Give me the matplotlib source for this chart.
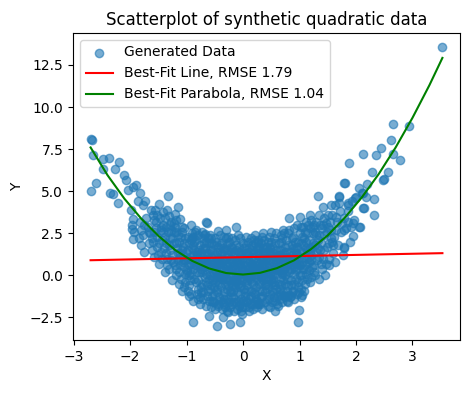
import numpy as np
import matplotlib
matplotlib.use("Agg")
import matplotlib.pyplot as plt

# points, grouped by region: (x, y)
left_arm = [
    (-2.69, 8.12), (-2.68, 8.02), (-2.66, 7.17), (-2.48, 6.93), (-2.38, 6.99),
    (-2.20, 6.73), (-2.26, 6.34), (-2.48, 6.34), (-2.60, 5.46), (-2.69, 5.02),
    (-2.10, 5.99), (-2.07, 5.65), (-1.95, 5.26), (-2.36, 4.87), (-2.31, 4.81),
    (-2.22, 4.31), (-2.04, 5.06), (-1.89, 5.36), (-1.83, 4.87), (-1.78, 4.18),
    (-1.33, 4.71), (-1.49, 4.24), (-1.95, 3.35), (-1.96, 2.74), (-1.75, 2.99),
    (-1.60, 3.58), (-1.54, 3.19), (-1.42, 3.78), (-1.28, 3.19), (-1.66, 2.60),
    (-1.81, 2.70), (-1.95, 2.15), (-1.80, 1.81), (-1.15, 4.08), (-1.21, 3.64),
    (-0.65, 3.19), (-1.11, 3.33), (-0.92, 2.99), (-0.64, 3.13), (-0.13, 2.89),
    (-0.45, 2.66), (-0.30, 2.70), (-0.68, 2.46), (-0.83, 2.70),
]

right_arm = [
    (3.53, 13.57), (2.65, 9.00), (2.93, 8.90), (2.62, 8.06), (2.44, 7.58),
    (2.13, 7.19), (2.36, 7.13), (2.65, 7.23), (2.78, 6.87), (1.88, 6.70),
    (2.29, 6.14), (2.56, 6.14), (2.50, 5.75), (2.47, 5.65), (1.79, 5.49),
    (2.06, 5.22), (2.20, 5.42), (2.13, 4.90), (2.18, 4.63), (2.32, 4.51),
    (1.99, 4.57), (1.85, 4.18), (2.12, 4.02), (2.32, 3.58), (2.07, 2.86),
    (1.94, 2.35), (1.79, 1.68), (1.76, 3.09), (1.32, 4.71), (1.69, 4.71),
    (1.81, 5.46), (1.41, 4.08), (1.56, 4.18), (1.70, 4.28), (1.18, 3.58),
    (1.35, 3.58), (0.81, 3.39), (1.00, 3.45), (0.50, 2.60), (0.36, 2.50),
    (0.67, 2.40), (0.26, 2.11), (2.15, 3.98), (1.70, 4.67), (2.00, 4.67),
    (2.11, 4.88), (1.85, 4.29), (1.62, 4.18), (1.94, 3.10), (2.06, 2.90),
    (1.79, 2.70), (1.79, 1.63), (1.65, 3.49), (1.65, 2.70), (1.85, 3.19),
    (1.91, 2.90),
]

bottom_points = [
    (-0.89, -2.75), (-0.47, -3.01), (-0.24, -2.87), (-0.06, -2.75), (-0.60, -2.42),
    (-0.36, -2.48), (-0.26, -2.16), (-0.01, -2.28), (0.97, -2.75), (0.99, -2.03),
    (1.05, -1.14), (0.56, -2.09), (-1.09, -0.90), (-0.80, -1.38), (0.29, -1.63),
    (0.44, -1.83), (0.70, -1.14), (0.82, -1.14),
]

core = [
    (-1.98, 3.9), (-1.93, 2.6), (-1.86, 4.4), (-1.82, 3.2), (-1.84, 2.2), (-1.97, 3.0),
    (-1.78, 2.4), (-1.72, 3.4), (-1.66, 1.9), (-1.63, 3.9), (-1.75, 1.4), (-1.69, 2.9),
    (-1.61, 2.2), (-1.74, 4.4),
    (-1.58, 1.1), (-1.55, 2.8), (-1.52, 1.7), (-1.47, 3.4), (-1.44, 2.1), (-1.56, 3.9),
    (-1.49, 0.7), (-1.42, 2.6), (-1.53, 2.3), (-1.46, 1.4), (-1.59, 2.0), (-1.41, 3.0),
    (-1.39, 0.2), (-1.36, 1.3), (-1.33, 2.6), (-1.31, 1.8), (-1.28, 0.9), (-1.25, 2.2),
    (-1.22, 3.1), (-1.37, 2.9), (-1.34, 1.0), (-1.29, 1.5), (-1.26, -0.3), (-1.23, 1.9),
    (-1.38, 2.3), (-1.21, 0.6), (-1.32, 3.5), (-1.27, 2.7),
    (-1.19, 0.4), (-1.17, 1.6), (-1.15, 2.4), (-1.13, -0.5), (-1.11, 1.1), (-1.09, 2.9),
    (-1.07, 0.8), (-1.05, 1.9), (-1.03, 0.1), (-1.01, 1.4), (-1.18, 3.3), (-1.16, 0.9),
    (-1.14, 2.0), (-1.12, 1.3), (-1.10, -0.2), (-1.08, 2.6), (-1.06, 1.7), (-1.04, 0.5),
    (-1.02, 2.2), (-1.00, 1.0),
    (-0.99, 0.3), (-0.97, 1.5), (-0.95, -0.6), (-0.93, 2.1), (-0.91, 0.9), (-0.89, 1.8),
    (-0.87, -0.2), (-0.85, 2.6), (-0.83, 0.6), (-0.81, 1.2), (-0.98, 2.3), (-0.96, 0.0),
    (-0.94, 1.1), (-0.92, -1.1), (-0.90, 1.6), (-0.88, 0.4), (-0.86, 2.0), (-0.84, -0.4),
    (-0.82, 1.4), (-0.80, 0.8), (-0.97, -0.9), (-0.93, 0.7), (-0.88, 2.3), (-0.84, 1.0),
    (-0.79, -0.3), (-0.77, 1.2), (-0.75, 0.4), (-0.73, 2.2), (-0.71, -1.0), (-0.69, 0.9),
    (-0.67, 1.6), (-0.65, 0.1), (-0.63, -0.6), (-0.61, 1.9), (-0.78, 0.7), (-0.76, -1.3),
    (-0.74, 1.4), (-0.72, 0.2), (-0.70, 2.4), (-0.68, -0.1), (-0.66, 1.0), (-0.64, 0.6),
    (-0.62, -0.9), (-0.60, 1.3), (-0.77, 1.8), (-0.73, -0.5), (-0.69, 0.5), (-0.65, 2.0),
    (-0.63, 0.8), (-0.61, -0.2),
    (-0.59, 0.0), (-0.57, 1.1), (-0.55, -1.2), (-0.53, 0.6), (-0.51, 1.8), (-0.49, -0.4),
    (-0.47, 0.9), (-0.45, -1.7), (-0.43, 0.3), (-0.41, 1.4), (-0.58, -0.8), (-0.56, 2.2),
    (-0.54, 0.2), (-0.52, -0.1), (-0.50, 1.2), (-0.48, 0.5), (-0.46, -1.0), (-0.44, 1.7),
    (-0.42, -0.5), (-0.40, 0.7), (-0.59, 1.5), (-0.55, -1.5), (-0.52, 0.8), (-0.48, 2.0),
    (-0.46, 0.1), (-0.44, -0.2), (-0.42, 1.0), (-0.57, -0.6),
    (-0.39, -0.7), (-0.37, 0.5), (-0.35, 1.6), (-0.33, -1.4), (-0.31, 0.2), (-0.29, 1.1),
    (-0.27, -0.3), (-0.25, 2.0), (-0.23, 0.7), (-0.21, -1.0), (-0.38, 1.3), (-0.36, -0.1),
    (-0.34, 0.9), (-0.32, -1.9), (-0.30, 0.4), (-0.28, 1.8), (-0.26, -0.6), (-0.24, 0.0),
    (-0.22, 1.4), (-0.20, -0.4), (-0.39, 0.8), (-0.35, -1.2), (-0.31, 2.2), (-0.28, 0.6),
    (-0.25, -1.6), (-0.22, 0.3), (-0.37, -0.2), (-0.33, 1.5), (-0.29, -0.8), (-0.24, 1.0),
    (-0.19, 0.4), (-0.17, -0.9), (-0.15, 1.2), (-0.13, -0.2), (-0.11, 0.8), (-0.09, -1.5),
    (-0.07, 1.7), (-0.05, 0.1), (-0.03, -0.6), (-0.01, 1.0), (-0.18, -1.3), (-0.16, 0.6),
    (-0.14, 2.1), (-0.12, -0.4), (-0.10, 0.2), (-0.08, 1.4), (-0.06, -1.1), (-0.04, 0.5),
    (-0.02, -0.1), (0.00, 1.9), (-0.19, 1.6), (-0.15, -0.7), (-0.12, 0.9), (-0.08, -1.8),
    (-0.05, 0.7), (-0.02, -0.3), (-0.17, 0.0), (-0.13, 1.5), (-0.09, -0.5), (-0.04, 1.2),
    (0.01, -0.8), (0.03, 0.6), (0.05, 1.3), (0.07, -0.3), (0.09, 0.9), (0.11, -1.4),
    (0.13, 0.2), (0.15, 1.8), (0.17, -0.5), (0.19, 0.5), (0.02, 1.6), (0.04, -1.2),
    (0.06, 0.1), (0.08, 2.0), (0.10, -0.1), (0.12, 0.8), (0.14, -0.9), (0.16, 1.1),
    (0.18, 0.3), (0.20, -1.7), (0.03, 0.4), (0.07, -0.6), (0.10, 1.4), (0.13, -0.2),
    (0.16, 0.7), (0.19, -1.0), (0.05, -1.6), (0.09, 1.2), (0.12, 0.0), (0.17, 1.5),
    (0.21, 0.3), (0.23, -0.7), (0.25, 1.2), (0.27, 0.0), (0.29, 1.7), (0.31, -1.3),
    (0.33, 0.6), (0.35, -0.3), (0.37, 2.1), (0.39, 0.9), (0.22, -1.1), (0.24, 0.8),
    (0.26, 1.5), (0.28, -0.5), (0.30, 0.4), (0.32, 1.1), (0.34, -0.9), (0.36, 0.2),
    (0.38, 1.4), (0.40, -0.2), (0.21, 1.9), (0.25, -1.5), (0.28, 0.7), (0.32, -0.1),
    (0.35, 1.3), (0.38, -0.6), (0.23, 0.1), (0.27, -1.7), (0.31, 0.9), (0.36, 1.6),
    (0.41, 0.5), (0.43, -0.8), (0.45, 1.4), (0.47, 0.1), (0.49, 2.0), (0.51, -0.4),
    (0.53, 0.8), (0.55, -1.3), (0.57, 1.1), (0.59, 0.3), (0.42, 1.7), (0.44, -0.2),
    (0.46, 0.6), (0.48, -1.1), (0.50, 1.2), (0.52, 0.0), (0.54, 2.2), (0.56, -0.6),
    (0.58, 0.9), (0.60, -1.7), (0.41, -0.5), (0.45, 0.9), (0.48, 1.6), (0.52, -0.9),
    (0.55, 0.4), (0.58, 1.5), (0.44, 0.2), (0.53, -0.2),
    (0.61, 0.8), (0.63, -0.5), (0.65, 1.5), (0.67, 0.2), (0.69, 2.2), (0.71, -1.0),
    (0.73, 1.1), (0.75, 0.5), (0.77, -0.2), (0.79, 1.8), (0.62, -1.2), (0.64, 0.6),
    (0.66, 1.2), (0.68, -0.6), (0.70, 0.9), (0.72, 2.5), (0.74, 0.0), (0.76, 1.4),
    (0.78, -0.9), (0.80, 0.7), (0.63, 1.9), (0.67, -0.1), (0.71, 0.4), (0.75, 1.7),
    (0.77, -1.5), (0.66, 0.3),
    (0.81, 0.2), (0.83, 1.4), (0.85, -0.6), (0.87, 0.9), (0.89, 2.3), (0.91, 0.5),
    (0.93, -0.2), (0.95, 1.7), (0.97, 1.0), (0.99, -1.0), (0.82, 2.7), (0.84, 0.7),
    (0.86, 1.2), (0.88, -0.9), (0.90, 0.1), (0.92, 2.0), (0.94, 1.3), (0.96, 0.4),
    (0.98, -0.4), (1.00, 2.5), (0.83, -1.3), (0.87, 1.8), (0.92, 0.8), (0.96, 3.0),
    (1.01, 0.6), (1.03, 1.9), (1.05, -0.3), (1.07, 1.3), (1.09, 2.6), (1.11, 0.1),
    (1.13, 1.0), (1.15, 3.0), (1.17, 0.8), (1.19, 1.6), (1.02, -0.8), (1.04, 2.3),
    (1.06, 0.4), (1.08, 1.1), (1.10, -0.5), (1.12, 2.0), (1.14, 1.5), (1.16, 0.3),
    (1.18, 2.8), (1.20, -0.1),
    (1.21, 1.2), (1.23, 2.5), (1.25, 0.2), (1.27, 1.8), (1.29, 3.2), (1.31, 0.9),
    (1.33, 2.1), (1.35, -0.2), (1.37, 1.5), (1.39, 2.8), (1.22, 0.5), (1.26, 3.0),
    (1.30, 1.4), (1.34, 2.4), (1.38, 0.7), (1.24, 1.9),
    (1.41, 1.0), (1.43, 2.4), (1.45, 0.0), (1.47, 3.1), (1.49, 1.7), (1.51, 2.9),
    (1.53, 0.6), (1.55, 2.2), (1.57, 3.6), (1.59, 1.3), (1.44, 3.4), (1.52, 1.9),
    (1.61, 2.3), (1.63, 0.8), (1.66, 3.2), (1.68, 1.8), (1.71, 3.8), (1.74, 2.6),
    (1.77, 1.2), (1.79, 3.4),
    (1.82, 2.8), (1.86, 3.8), (1.89, 2.0), (1.93, 4.4), (1.97, 3.3),
]

# second pass over the dense middle, filling the gaps between the first set
core_fill = [
    (-1.64, 2.5), (-1.57, 3.3), (-1.51, 1.2), (-1.45, 2.7), (-1.40, 1.6), (-1.35, 3.9),
    (-1.30, 2.2), (-1.24, 0.8), (-1.20, 2.9), (-1.35, 0.6), (-1.48, 1.9), (-1.62, 1.5),
    (-1.18, 1.9), (-1.14, 0.2), (-1.10, 2.3), (-1.06, 1.2), (-1.02, -0.4), (-1.16, 1.3),
    (-1.12, 0.6), (-1.08, 1.5), (-1.04, 2.8), (-1.00, 0.2), (-1.19, 2.6), (-1.05, 0.9),
    (-0.98, 1.0), (-0.95, 1.9), (-0.92, 0.1), (-0.89, 1.2), (-0.86, 0.6), (-0.83, 2.1),
    (-0.80, -0.8), (-0.96, 0.6), (-0.91, 2.5), (-0.87, 1.5), (-0.82, 0.2), (-0.94, -0.3),
    (-0.78, 1.5), (-0.75, -0.7), (-0.72, 0.9), (-0.69, 1.9), (-0.66, -0.4), (-0.63, 1.3),
    (-0.60, 0.4), (-0.76, 0.2), (-0.71, 1.6), (-0.67, 0.6), (-0.62, 2.2), (-0.74, -1.0),
    (-0.68, 1.2), (-0.64, -1.2),
    (-0.58, 0.5), (-0.55, 1.5), (-0.52, -0.7), (-0.49, 0.3), (-0.46, 1.4), (-0.43, -1.3),
    (-0.40, 0.1), (-0.57, 1.9), (-0.53, -0.3), (-0.50, 0.8), (-0.47, -0.8), (-0.44, 0.6),
    (-0.41, 1.8), (-0.56, 0.9), (-0.51, -1.1), (-0.45, 1.1), (-0.42, -0.1), (-0.54, -1.6),
    (-0.38, 0.0), (-0.35, 0.9), (-0.32, -0.5), (-0.29, 1.5), (-0.26, 0.3), (-0.23, -0.9),
    (-0.20, 0.8), (-0.37, 1.9), (-0.34, -1.0), (-0.31, 0.6), (-0.27, 1.2), (-0.24, -0.3),
    (-0.21, 1.7), (-0.36, -1.6), (-0.30, -0.2), (-0.26, 2.3), (-0.22, -1.3), (-0.33, 0.1),
    (-0.18, 0.9), (-0.15, -0.3), (-0.12, 1.8), (-0.09, 0.3), (-0.06, -0.7), (-0.03, 1.4),
    (-0.17, -1.6), (-0.14, 0.4), (-0.11, -1.0), (-0.07, 0.9), (-0.04, -1.4), (-0.01, 0.4),
    (-0.16, 1.3), (-0.10, -0.2), (-0.05, 2.2), (-0.19, -0.6), (-0.13, 0.0), (-0.02, -1.9),
    (0.02, 0.9), (0.05, -0.4), (0.08, 0.4), (0.11, 1.6), (0.14, -1.2), (0.17, 0.9),
    (0.20, 0.0), (0.03, -1.0), (0.06, 1.8), (0.09, -0.9), (0.12, 0.5), (0.15, -0.4),
    (0.18, 1.3), (0.04, 0.0), (0.10, -1.9), (0.16, 0.2), (0.19, 2.1), (0.01, 1.2),
    (0.22, 0.6), (0.25, -0.2), (0.28, 1.3), (0.31, 0.2), (0.34, -1.2), (0.37, 0.7),
    (0.40, 1.7), (0.23, -1.4), (0.26, 0.4), (0.29, -0.9), (0.32, 1.9), (0.35, 0.0),
    (0.38, -1.0), (0.24, 1.6), (0.30, -0.4), (0.36, 1.0), (0.39, 0.4), (0.27, 2.0),
    (0.42, 0.2), (0.45, -0.6), (0.48, 0.9), (0.51, 1.7), (0.54, -0.4), (0.57, 0.5),
    (0.60, 1.2), (0.43, 1.1), (0.46, -1.4), (0.49, 0.4), (0.52, 1.4), (0.55, -1.0),
    (0.58, 0.1), (0.44, 2.0), (0.50, -0.2), (0.56, 1.9), (0.59, -0.8), (0.47, 1.3),
    (0.62, 0.4), (0.65, -0.8), (0.68, 1.5), (0.71, 0.7), (0.74, -0.5), (0.77, 1.1),
    (0.80, 0.3), (0.64, 1.0), (0.67, 2.0), (0.70, -0.3), (0.73, 0.4), (0.76, 2.1),
    (0.79, -0.6), (0.66, -1.1), (0.72, 1.3), (0.78, 0.8), (0.69, 0.1), (0.75, -1.2),
    (0.82, 1.0), (0.85, 0.4), (0.88, 1.6), (0.91, -0.5), (0.94, 0.7), (0.97, 2.0),
    (1.00, 0.0), (0.84, -0.3), (0.87, 2.2), (0.90, 1.1), (0.93, 0.3), (0.96, 1.2),
    (0.99, 0.7), (0.86, -1.0), (0.92, 1.5), (0.98, -0.7),
    (1.02, 1.4), (1.05, 0.8), (1.08, 2.2), (1.11, 1.6), (1.14, -0.2), (1.17, 2.1),
    (1.20, 0.9), (1.04, 0.0), (1.07, 1.8), (1.10, 0.6), (1.13, 2.5), (1.16, 1.1),
    (1.19, -0.4), (1.06, 2.9), (1.12, 0.4), (1.18, 1.4),
    (1.22, 1.7), (1.26, 0.6), (1.30, 2.4), (1.34, 1.1), (1.38, 1.9), (1.24, 2.9),
    (1.28, 0.0), (1.32, 1.6), (1.36, 3.0), (1.40, 0.4),
    (1.44, 1.5), (1.48, 2.6), (1.52, 1.0), (1.56, 2.7), (1.60, 1.8), (1.46, 0.7),
    (1.54, 3.2), (1.58, 2.0),
]

# lower and upper rims of the dense middle
core_rim = [
    (-0.95, -1.2), (-0.88, -1.5), (-0.82, -1.1), (-0.77, -1.7), (-0.71, -1.4), (-0.66, -1.8),
    (-0.61, -1.5), (-0.57, -1.9), (-0.52, -1.6), (-0.49, -2.0), (-0.44, -1.8), (-0.40, -1.5),
    (-0.37, -2.0), (-0.33, -1.7), (-0.29, -2.1), (-0.27, -1.4), (-0.23, -1.9), (-0.19, -1.7),
    (-0.16, -2.1), (-0.12, -1.6), (-0.10, -2.0), (-0.06, -1.7), (-0.03, -2.1), (0.00, -1.5),
    (0.04, -1.9), (0.07, -1.5), (0.10, -2.1), (0.14, -1.7), (0.18, -2.0), (0.21, -1.5),
    (0.25, -1.9), (0.30, -1.7), (0.34, -2.0), (0.39, -1.6), (0.43, -1.4), (0.47, -1.9),
    (0.51, -1.6), (0.56, -1.5), (0.61, -1.8), (0.65, -1.4), (0.69, -1.6), (0.74, -1.3),
    (0.80, -1.6), (0.85, -1.2), (0.90, -1.4), (0.95, -1.1), (1.02, -1.3), (1.08, -0.9),
    (-0.91, 2.2), (-0.79, 2.4), (-0.72, 2.6), (-0.58, 2.4), (-0.50, 2.2), (-0.40, 2.4),
    (-0.34, 2.3), (-0.20, 2.2), (-0.09, 2.4), (0.05, 2.3), (0.14, 2.2), (0.22, 2.4),
    (0.33, 2.3), (0.46, 2.3), (0.58, 2.5), (0.70, 2.7), (0.79, 2.5), (0.90, 2.8),
    (1.03, 2.9), (1.12, 3.2), (1.21, 3.3), (1.28, 2.6), (1.42, 3.0), (1.50, 3.6),
    (-1.22, 2.6), (-1.30, 3.0), (-1.39, 3.4), (-1.46, 2.9), (-1.52, 3.6), (-1.58, 2.6),
    (-1.43, 1.0), (-1.32, 0.4), (-1.18, 0.0), (-1.05, -0.7), (-1.25, 1.2), (-1.37, 1.9),
]

# fitted curves
line_x = [-2.70, 3.53]
line_y = [0.90, 1.32]
parab_x = [-2.70, -2.4, -2.1, -1.8, -1.5, -1.2, -0.9, -0.6, -0.3, 0.0, 0.3,
           0.6, 0.9, 1.2, 1.5, 1.8, 2.1, 2.4, 2.7, 3.0, 3.3, 3.53]
parab_y = [7.60, 5.95, 4.55, 3.36, 2.35, 1.50, 0.86, 0.41, 0.14, 0.05, 0.15,
           0.43, 0.89, 1.55, 2.38, 3.42, 4.62, 6.01, 7.59, 9.36, 11.30, 12.92]

pts = np.array(left_arm + core + core_fill + core_rim + bottom_points + right_arm)

fig = plt.figure(figsize=(4.7, 3.93), dpi=100)
ax = fig.add_axes([73 / 470, 53 / 393, 387 / 470, 307 / 393])

ax.scatter(pts[:, 0], pts[:, 1], alpha=0.6, label='Generated Data')
ax.plot(line_x, line_y, color='red', label='Best-Fit Line, RMSE 1.79')
ax.plot(parab_x, parab_y, color='green', label='Best-Fit Parabola, RMSE 1.04')

ax.set_title('Scatterplot of synthetic quadratic data')
ax.set_xlabel('X')
ax.set_ylabel('Y')
ax.legend(loc='upper left')

fig.savefig('out.png', dpi=100)
